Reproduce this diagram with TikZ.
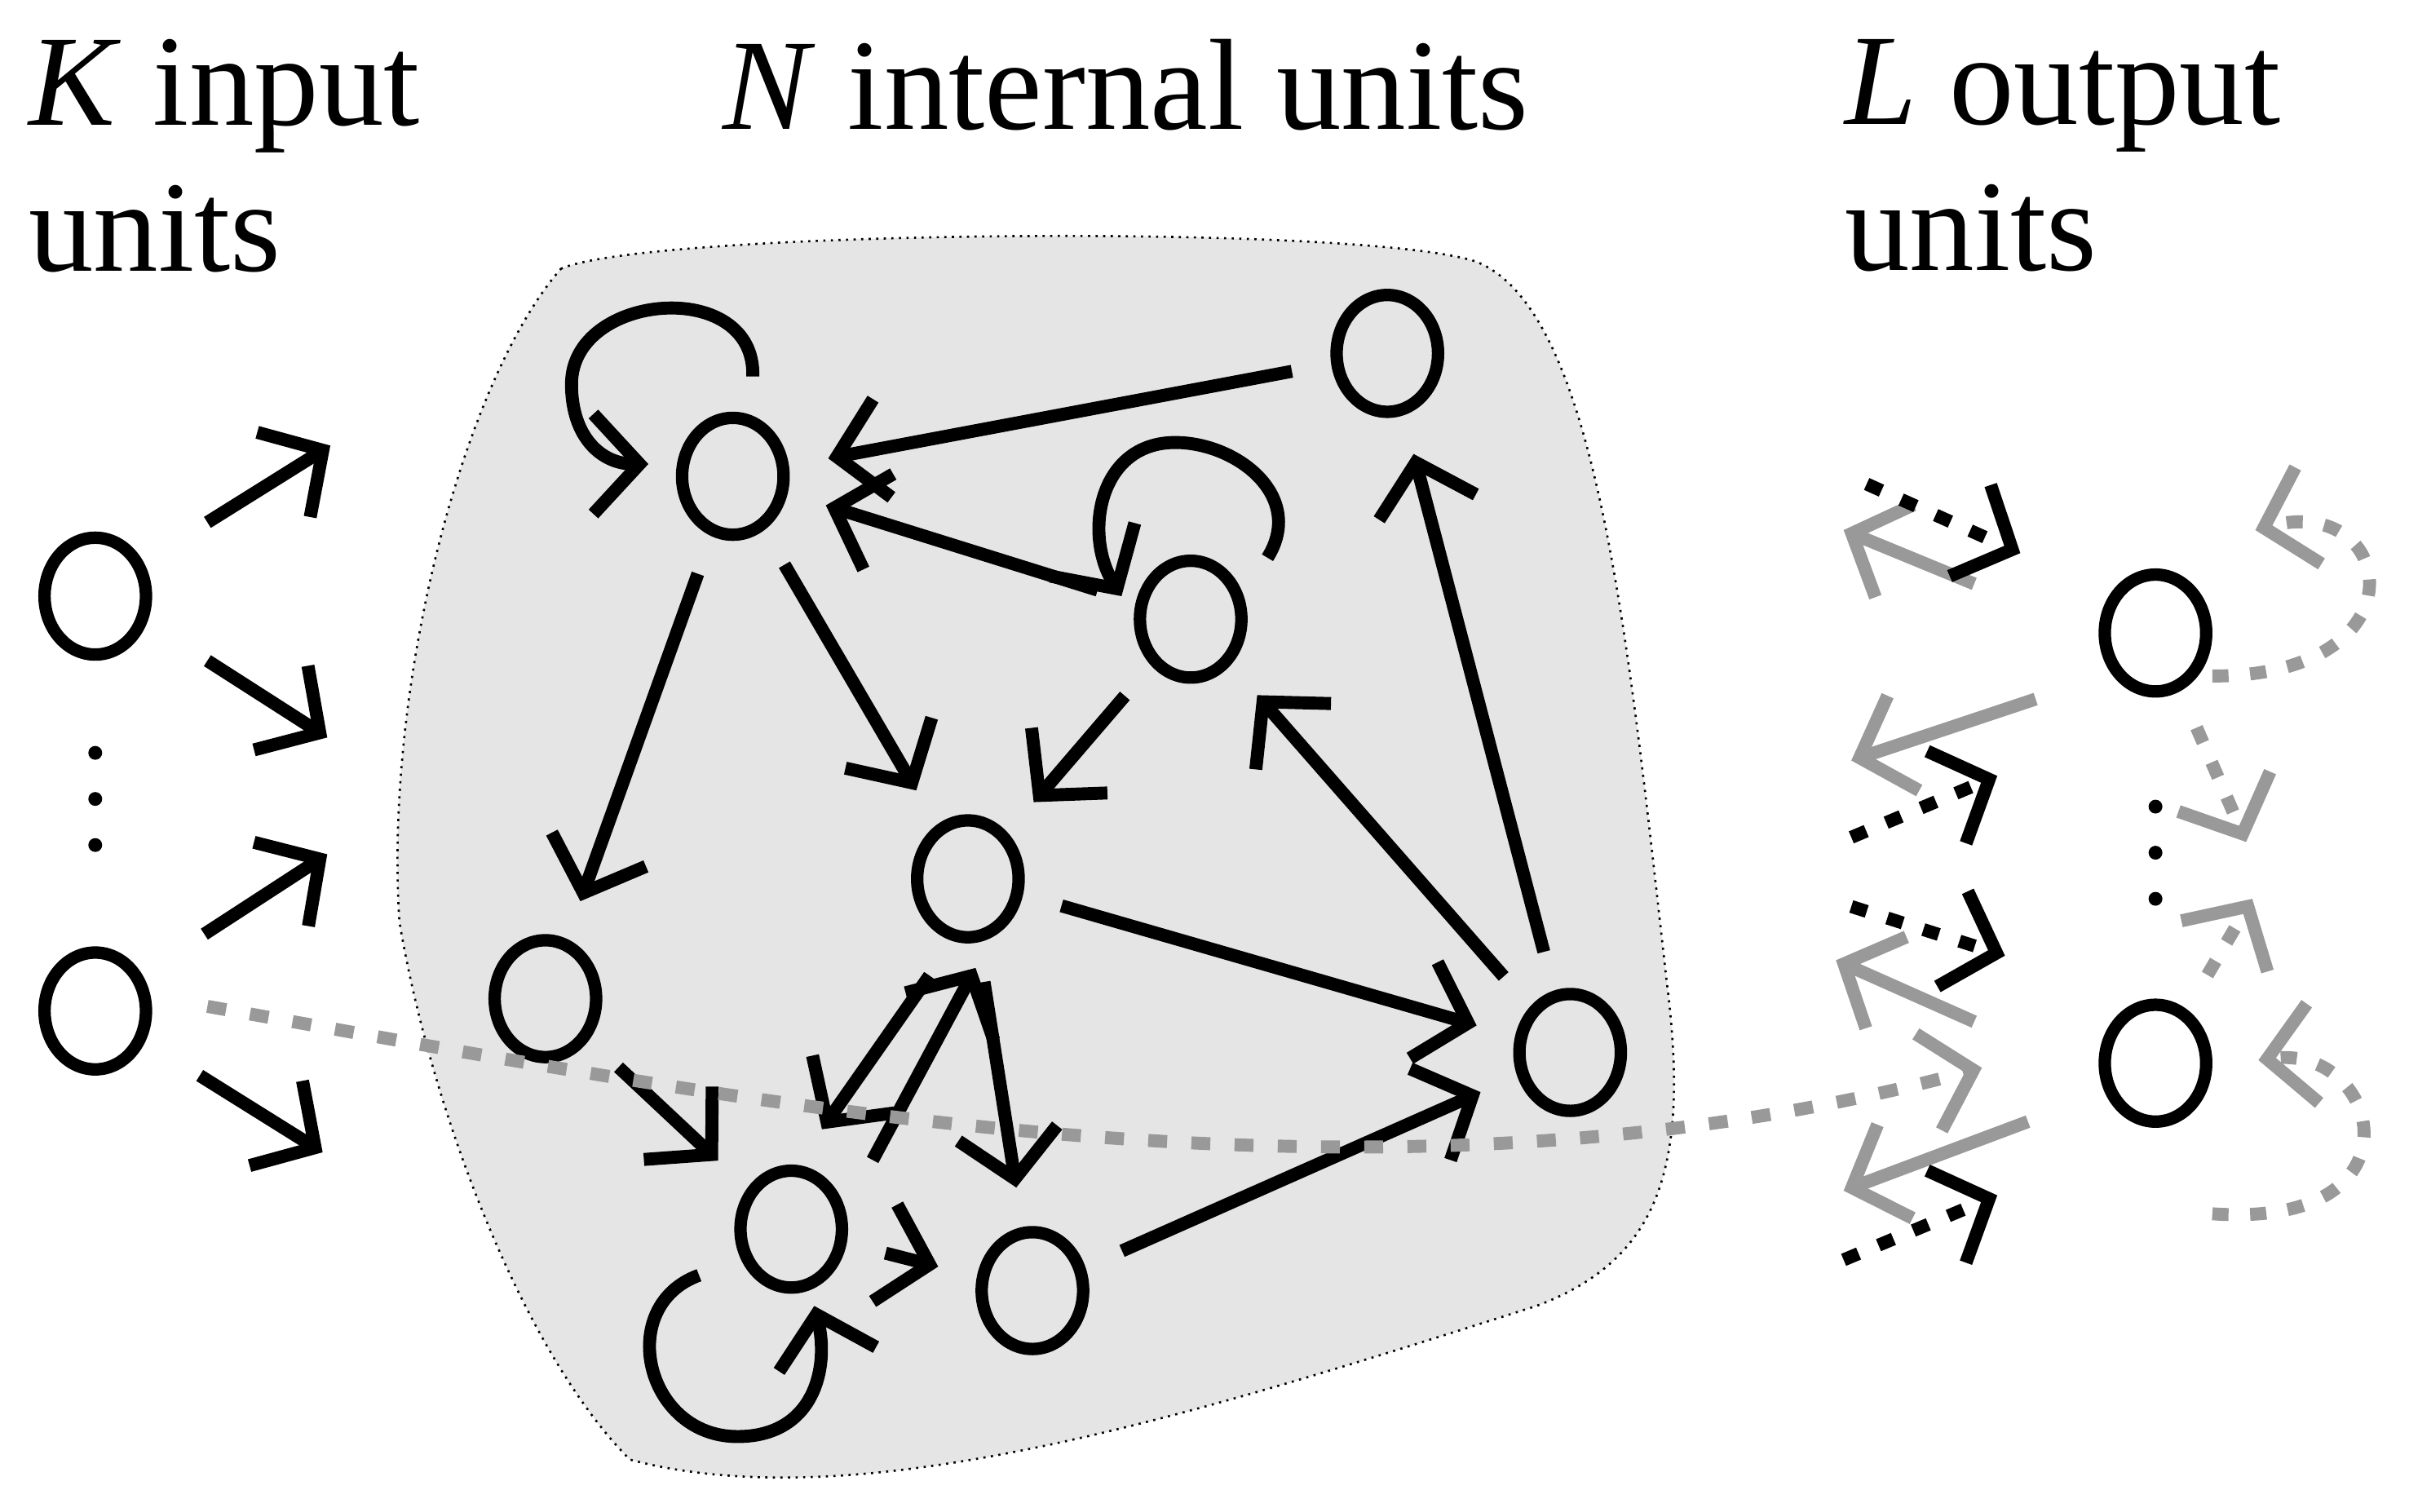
\documentclass[tikz,border=0pt]{standalone}
\usepackage{fontspec}
\setmainfont{Liberation Serif}
\usetikzlibrary{arrows.meta,shapes.geometric}
\begin{document}
\begin{tikzpicture}[x=0.01cm,y=-0.01cm,
    unit/.style={draw,line width=2.3pt,ellipse,minimum width=0.66cm,minimum height=0.76cm,outer sep=0.3cm},
    edge/.style={line width=2.4pt,-{Straight Barb[length=3mm,width=6.5mm,line width=2.4pt]}},
    fb/.style={edge,dash pattern=on 3pt off 4pt,black},
    rd/.style={edge,gray!80},
    dot/.style={circle,fill,inner sep=0pt,minimum size=0.09cm},
    lbl/.style={font=\fontsize{24}{27}\selectfont,align=left,anchor=north west,inner sep=0pt}]
  % frame
  \useasboundingbox (0,0) rectangle (1568,984);
  % reservoir backdrop
  \draw[fill=black!10,densely dotted,thin]
       (365,175) .. controls (420,150) and (880,145) .. (960,170)
    .. controls (1040,200) and (1060,420) .. (1085,640)
    .. controls (1100,760) and (1080,820) .. (1000,850)
    .. controls (780,920) and (560,990) .. (410,950)
    .. controls (340,880) and (280,720) .. (260,600)
    .. controls (250,450) and (300,250) .. (365,175);
  % labels
  \node[lbl] (tin)  at (18,25)   {\textit{K} input\\units};
  \node[lbl] (tmid) at (470,25)  {\textit{N} internal units};
  \node[lbl] (tout) at (1200,25) {\textit{L} output\\units};
  % input units
  \node[unit] (u1) at (62,388) {};
  \node[unit] (u2) at (62,658) {};
  \foreach \yy in {490,520,550} \node[dot] at (62,\yy) {};
  % internal units
  \node[unit] (x1) at (477,310) {};
  \node[unit] (x2) at (903,230) {};
  \node[unit] (x3) at (775,403) {};
  \node[unit] (x4) at (630,572) {};
  \node[unit] (x5) at (355,650) {};
  \node[unit] (x6) at (1022,685) {};
  \node[unit] (x7) at (515,800) {};
  \node[unit] (x8) at (672,840) {};
  % output units
  \node[unit] (y1) at (1403,412) {};
  \node[unit] (y2) at (1403,692) {};
  \foreach \yy in {525,555,585} \node[dot] at (1403,\yy) {};
  % input arrows
  \coordinate (i1) at (135,340); \coordinate (j1) at (215,290);
  \coordinate (i2) at (135,430); \coordinate (j2) at (213,480);
  \coordinate (i3) at (133,608); \coordinate (j3) at (213,556);
  \coordinate (i4) at (130,700); \coordinate (j4) at (210,750);
  \foreach \k in {1,...,4} \draw[edge] (i\k) -- (j\k);
  % internal connections
  \draw[edge] (x2) -- (x1);
  \draw[edge] (x3) -- (x1);
  \draw[edge] (x1) -- (x5);
  \draw[edge] (x1) -- (x4);
  \draw[edge] (x3) -- (x4);
  \draw[edge] (x4) -- (x6);
  \draw[edge] (x6) -- (x3);
  \draw[edge] (x6) -- (x2);
  \draw[edge] (x5) -- (x7);
  \draw[edge] ([shift={(-25,63)}]x4.center) -- ([shift={(20,-65)}]x7.center);
  \draw[edge] ([shift={(53,-45)}]x7.center) -- ([shift={(5,58)}]x4.center);
  \draw[edge] (x4) -- (x8);
  \draw[edge] (x7) -- (x8);
  \draw[edge] (x8) -- (x6);
  % self loops
  \draw[edge] ([shift={(13,-65)}]x1.center) .. controls +(2,-65) and +(0,-60) .. ([shift={(-105,-60)}]x1.center)
     .. controls +(0,35) and +(-30,0) .. ([shift={(-55,-8)}]x1.center);
  \draw[edge] ([shift={(50,-40)}]x3.center) .. controls +(25,-40) and +(40,0) .. ([shift={(-10,-115)}]x3.center)
     .. controls +(-50,0) and +(-25,-40) .. ([shift={(-45,-15)}]x3.center);
  \draw[edge] ([shift={(-60,30)}]x7.center) .. controls +(-55,20) and +(-60,0) .. ([shift={(-35,135)}]x7.center)
     .. controls +(50,0) and +(10,40) .. ([shift={(15,50)}]x7.center);
  % readout from an input
  \coordinate (r0) at (1290,695);
  \draw[edge,gray!80,dash pattern=on 3.5pt off 4.5pt] (135,655) .. controls (500,720) and (900,800) .. (r0);
  % output side arrows
  \coordinate (o1) at (1285,380); \coordinate (p1) at (1200,345);
  \coordinate (o2) at (1325,455); \coordinate (p2) at (1205,495);
  \coordinate (o3) at (1285,665); \coordinate (p3) at (1195,625);
  \coordinate (o4) at (1320,730); \coordinate (p4) at (1200,775);
  \foreach \k in {1,...,4} \draw[rd] (o\k) -- (p\k);
  \coordinate (q1) at (1215,315); \coordinate (s1) at (1315,360);
  \coordinate (q2) at (1205,545); \coordinate (s2) at (1300,505);
  \coordinate (q3) at (1205,590); \coordinate (s3) at (1305,622);
  \coordinate (q4) at (1200,820); \coordinate (s4) at (1300,778);
  \foreach \k in {1,...,4} \draw[fb] (q\k) -- (s\k);
  % output feedback
  \draw[rd,dash pattern=on 3pt off 4pt] (y1) -- (1462,548);
  \draw[rd,dash pattern=on 3pt off 4pt] (y2) -- (1466,585);
  \draw[rd,dash pattern=on 3pt off 4pt] (1440,440) .. controls (1580,440) and (1560,320) .. (1468,345);
  \draw[rd,dash pattern=on 3pt off 4pt] (1440,790) .. controls (1580,800) and (1550,680) .. (1470,690);
\end{tikzpicture}
\end{document}
